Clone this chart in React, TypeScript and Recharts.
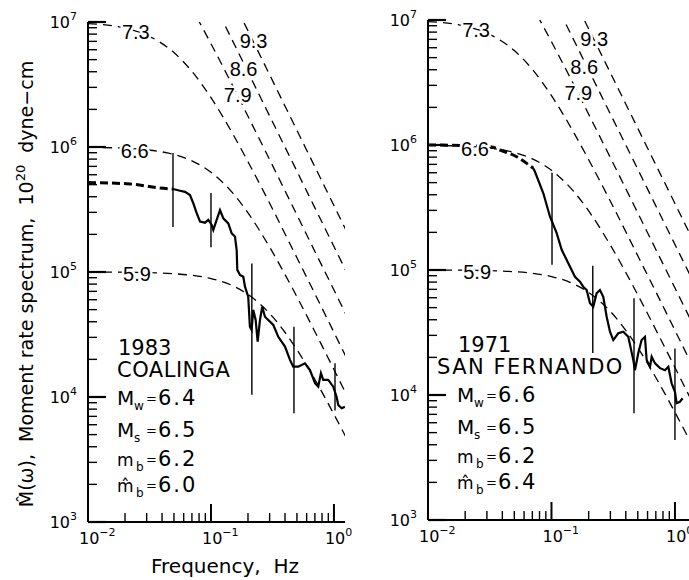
import React from "react";
import { LineChart, Line, XAxis, YAxis, ReferenceLine, ReferenceDot } from "recharts";

// dashed source-model spectra (Hz, 10^20 dyne-cm)
const modelFreq = [0.01, 0.02, 0.03, 0.05, 0.07, 0.1, 0.15, 0.2, 0.3, 0.5, 0.7, 1.0, 1.4];
const m59 = [1.0e5, 9.95e4, 9.89e4, 9.69e4, 9.41e4, 8.87e4, 7.77e4, 6.62e4, 4.66e4, 2.39e4, 1.38e4, 7.27e3, 3.85e3];
const m66 = [9.94e5, 9.77e5, 9.49e5, 8.71e5, 7.75e5, 6.28e5, 4.29e5, 2.97e5, 1.58e5, 6.33e4, 3.33e4, 1.66e4, 8.55e3];
const m73 = [9.71e6, 8.92e6, 7.86e6, 5.69e6, 4.03e6, 2.48e6, 1.28e6, 7.63e5, 3.55e5, 1.3e5, 6.7e4, 3.29e4, 1.68e4];
const m79Freq = [0.05, 0.07, 0.1, 0.15, 0.2, 0.3, 0.5, 0.7, 1.0, 1.4];
const m79 = [2.23e7, 1.28e7, 6.7e6, 3.1e6, 1.76e6, 7.92e5, 2.86e5, 1.46e5, 7.18e4, 3.66e4];
const m86Freq = [0.07, 0.1, 0.15, 0.2, 0.3, 0.5, 0.7, 1.0, 1.4];
const m86 = [3.16e7, 1.575e7, 7.06e6, 3.98e6, 1.77e6, 6.4e5, 3.26e5, 1.6e5, 8.16e4];
const m93Freq = [0.1, 0.15, 0.2, 0.3, 0.5, 0.7, 1.0, 1.4];
const m93 = [3.39e7, 1.51e7, 8.5e6, 3.78e6, 1.36e6, 6.94e5, 3.4e5, 1.73e5];

// magnitude labels on the model curves
const curveLabels = [
  { f: 0.0245, M: 8.3e6, t: "7.3" },
  { f: 0.024, M: 9.3e5, t: "6.6" },
  { f: 0.025, M: 9.6e4, t: "5.9" },
  { f: 0.222, M: 7.0e6, t: "9.3" },
  { f: 0.184, M: 4.2e6, t: "8.6" },
  { f: 0.165, M: 2.63e6, t: "7.9" },
];

// 1983 Coalinga
const coalHeavyF = [0.01, 0.022, 0.0385, 0.0491];
const coalHeavyM = [5.2e5, 5.06e5, 4.7e5, 4.61e5];
const coalF = [0.0491, 0.056, 0.0615, 0.0675, 0.0718, 0.0766, 0.0815, 0.0894, 0.0951, 0.1014, 0.1045, 0.1112, 0.1184, 0.1259, 0.1383, 0.1474, 0.1567, 0.1618, 0.1637, 0.1722, 0.1832, 0.189, 0.2009, 0.2073, 0.2141, 0.2208, 0.2309, 0.2397, 0.2503, 0.2612, 0.2748, 0.2924, 0.3214, 0.3527, 0.3999, 0.4389, 0.4668, 0.5128, 0.5808, 0.6383, 0.7014, 0.7453, 0.7837, 0.8182, 0.8991, 0.9862, 1.052, 1.084, 1.156, 1.228];
const coalM = [4.61e5, 4.47e5, 4.38e5, 4.13e5, 3.55e5, 2.95e5, 2.53e5, 2.48e5, 2.61e5, 2.38e5, 2.17e5, 2.61e5, 3.13e5, 2.69e5, 2.45e5, 2.04e5, 1.92e5, 1.5e5, 1.04e5, 9.46e4, 9.17e4, 7.63e4, 6.34e4, 3.65e4, 3.44e4, 4.97e4, 4.13e4, 2.77e4, 4.13e4, 5.27e4, 4.39e4, 4.13e4, 3.77e4, 3.03e4, 2.53e4, 1.98e4, 1.75e4, 1.75e4, 1.86e4, 1.64e4, 1.29e4, 1.21e4, 1.55e4, 1.37e4, 1.37e4, 1.21e4, 1.0e4, 8.63e3, 8.13e3, 8.36e3];
const coalBars = [
  { f: 0.0491, lo: 2.29e5, hi: 8.95e5 },
  { f: 0.1, lo: 1.58e5, hi: 4.29e5 },
  { f: 0.215, lo: 1.04e4, hi: 1.17e5 },
  { f: 0.473, lo: 7.41e3, hi: 3.65e4 },
  { f: 1.02, lo: 7.8e3, hi: 1.86e4 },
];

// 1971 San Fernando
const sfHeavyF = [0.01, 0.02, 0.033, 0.0383, 0.0522, 0.0712];
const sfHeavyM = [1.0e6, 9.9e5, 9.64e5, 9.12e5, 8.06e5, 6.51e5];
const sfF = [0.0712, 0.0735, 0.0859, 0.0973, 0.1102, 0.121, 0.1287, 0.1413, 0.155, 0.1702, 0.1808, 0.1927, 0.205, 0.218, 0.2321, 0.2469, 0.2627, 0.2799, 0.2977, 0.3166, 0.3474, 0.3814, 0.4187, 0.4596, 0.4742, 0.5044, 0.537, 0.5714, 0.5897, 0.6279, 0.6478, 0.6896, 0.7568, 0.8303, 0.8834, 0.9402, 1.0, 1.032, 1.097, 1.154];
const sfM = [6.51e5, 6.11e5, 4.11e5, 2.67e5, 1.97e5, 1.45e5, 1.28e5, 1.06e5, 8.83e4, 8.06e4, 7.35e4, 6.92e4, 5.42e4, 5.08e4, 6.52e4, 6.92e4, 6.11e4, 4.23e4, 3.21e4, 2.75e4, 3.12e4, 3.21e4, 2.92e4, 1.91e4, 1.58e4, 2.16e4, 2.75e4, 2.92e4, 1.91e4, 1.68e4, 2.02e4, 1.79e4, 1.64e4, 1.58e4, 1.68e4, 1.24e4, 1.06e4, 8.59e3, 8.83e3, 9.41e3];
const sfBars = [
  { f: 0.101, lo: 1.1e5, hi: 6.0e5 },
  { f: 0.216, lo: 2.17e4, hi: 1.08e5 },
  { f: 0.466, lo: 7.14e3, hi: 5.94e4 },
  { f: 1.0, lo: 4.37e3, hi: 2.36e4 },
];

// log ticks
const mantissas = [1, 2, 3, 4, 5, 6, 7, 8, 9];
const yDecades = [1e3, 1e4, 1e5, 1e6];
const xDecades = [0.01, 0.1];
const yTicks = [...yDecades.flatMap((d) => mantissas.map((m) => d * m)), 1e7];
const xTicks = [...xDecades.flatMap((d) => mantissas.map((m) => d * m)), 1];

const pts = (f: number[], m: number[]) => f.map((v, i) => ({ f: v, M: m[i] }));

const FONT = "DejaVu Sans, sans-serif";

const expOf = (v: number) => {
  const l = Math.log10(v);
  const e = Math.round(l);
  return { e, major: Math.abs(l - e) < 1e-6 };
};

const renderYTick = (props: any) => {
  const { x, y, payload } = props;
  const { e, major } = expOf(payload.value);
  return (
    <g>
      <line x1={x} x2={x + (major ? 18 : 9)} y1={y} y2={y} stroke="#000" strokeWidth={major ? 2.2 : 1.4} />
      {major && (
        <text x={x - 11} y={y + 6} textAnchor="end" fontFamily={FONT} fontSize={16} fill="#000">
          10<tspan dy={-8} fontSize={11}>{e}</tspan>
        </text>
      )}
    </g>
  );
};

const renderXTick = (props: any) => {
  const { x, y, payload } = props;
  const { e, major } = expOf(payload.value);
  return (
    <g>
      <line x1={x} x2={x} y1={y} y2={y - (major ? 18 : 9)} stroke="#000" strokeWidth={major ? 2 : 1.4} />
      {major && (
        <text x={x - 9} y={y + 22} textAnchor="start" fontFamily={FONT} fontSize={16} fill="#000">
          10<tspan dy={-8} fontSize={11}>{e < 0 ? "\u2212" + -e : String(e)}</tspan>
        </text>
      )}
    </g>
  );
};

const models = [
  { key: "m59", data: pts(modelFreq, m59) },
  { key: "m66", data: pts(modelFreq, m66) },
  { key: "m73", data: pts(modelFreq, m73) },
  { key: "m79", data: pts(m79Freq, m79) },
  { key: "m86", data: pts(m86Freq, m86) },
  { key: "m93", data: pts(m93Freq, m93) },
];

type Bar = { f: number; lo: number; hi: number };

function Panel(props: {
  xMax: number;
  width: number;
  margin: { top: number; right: number; bottom: number; left: number };
  heavy: { f: number; M: number }[];
  solid: { f: number; M: number }[];
  bars: Bar[];
}) {
  const { xMax, width, margin, heavy, solid, bars } = props;
  return (
    <LineChart width={width} height={580} margin={margin}>
      <XAxis
        dataKey="f"
        type="number"
        scale="log"
        domain={[0.01, xMax]}
        allowDataOverflow
        ticks={xTicks}
        interval={0}
        tick={renderXTick}
        tickLine={false}
        tickSize={0}
        tickMargin={0}
        height={30}
        axisLine={{ stroke: "#000", strokeWidth: 2 }}
      />
      <YAxis
        type="number"
        scale="log"
        domain={[1e3, 1e7]}
        allowDataOverflow
        ticks={yTicks}
        interval={0}
        tick={renderYTick}
        tickLine={false}
        tickSize={0}
        tickMargin={0}
        width={50}
        axisLine={{ stroke: "#000", strokeWidth: 2 }}
      />
      {models.map((m) => (
        <Line
          key={m.key}
          data={m.data}
          dataKey="M"
          type="monotone"
          stroke="#000"
          strokeWidth={1.3}
          strokeDasharray="9 6"
          dot={false}
          activeDot={false}
          isAnimationActive={false}
        />
      ))}
      <Line
        data={heavy}
        dataKey="M"
        type="monotone"
        stroke="#000"
        strokeWidth={3}
        strokeDasharray="8 4"
        dot={false}
        activeDot={false}
        isAnimationActive={false}
      />
      <Line
        data={solid}
        dataKey="M"
        type="linear"
        stroke="#000"
        strokeWidth={2.2}
        dot={false}
        activeDot={false}
        isAnimationActive={false}
      />
      {bars.map((b, i) => (
        <ReferenceLine
          key={"bar" + i}
          segment={[
            { x: b.f, y: b.lo },
            { x: b.f, y: b.hi },
          ]}
          stroke="#000"
          strokeWidth={1.4}
        />
      ))}
      {curveLabels.map((l) => (
        <ReferenceDot
          key={l.t}
          x={l.f}
          y={l.M}
          r={0}
          ifOverflow="visible"
          shape={(p: any) => (
            <text
              x={p.cx}
              y={p.cy}
              textAnchor="middle"
              dominantBaseline="central"
              fontFamily="Liberation Sans, sans-serif"
              fontSize={20}
              fill="#000"
              stroke="#fff"
              strokeWidth={5}
              paintOrder="stroke"
            >
              {l.t}
            </text>
          )}
        />
      ))}
    </LineChart>
  );
}

function MagBlock(props: { x: number; y0: number; year: string; name: string; nameX: number; vals: string[]; spacing: number }) {
  const { x, y0, year, name, nameX, vals, spacing } = props;
  const rows = [
    { sym: "M", sub: "w", dy: 0, size: 20, subX: 17 },
    { sym: "M", sub: "s", dy: 32, size: 20, subX: 17 },
    { sym: "m", sub: "b", dy: 61, size: 17, subX: 19 },
    { sym: "m\u0302", sub: "b", dy: 87, size: 17, subX: 19 },
  ];
  return (
    <g fontFamily={FONT} fill="#000">
      <text x={x + 1} y={y0 - 50} fontSize={21}>{year}</text>
      <text x={nameX} y={y0 - 28} fontSize={21} letterSpacing={spacing}>{name}</text>
      {rows.map((r, i) => (
        <g key={i}>
          <text x={x} y={y0 + r.dy} fontSize={r.size}>{r.sym}</text>
          <text x={x + r.subX} y={y0 + r.dy + 5} fontSize={12}>{r.sub}</text>
          <text x={x + 29} y={y0 + r.dy - 2} fontSize={13}>=</text>
          <text x={x + 41} y={y0 + r.dy} fontSize={21} letterSpacing={2}>{vals[i]}</text>
        </g>
      ))}
    </g>
  );
}

export default function App() {
  return (
    <div style={{ position: "absolute", left: 0, top: 0, width: 689, height: 580, overflow: "hidden", background: "#fff" }}>
      <div style={{ position: "absolute", left: 0, top: 0 }}>
        <Panel
          xMax={1.23}
          width={362}
          margin={{ top: 22, right: 17, bottom: 28, left: 38 }}
          heavy={pts(coalHeavyF, coalHeavyM)}
          solid={pts(coalF, coalM)}
          bars={coalBars}
        />
      </div>
      <div style={{ position: "absolute", left: 345, top: 0 }}>
        <Panel
          xMax={1.4}
          width={350}
          margin={{ top: 20, right: 2, bottom: 30, left: 33 }}
          heavy={pts(sfHeavyF, sfHeavyM)}
          solid={pts(sfF, sfM)}
          bars={sfBars}
        />
      </div>
      <svg width={689} height={580} style={{ position: "absolute", left: 0, top: 0, pointerEvents: "none" }}>
        <text
          transform="translate(33,284) rotate(-90)"
          textAnchor="middle"
          fontFamily={FONT}
          fontSize={19}
          fill="#000"
          style={{ whiteSpace: "pre" }}
        >
          {"M\u0302(\u03c9),  Moment rate spectrum,  10"}
          <tspan dy={-8} fontSize={13}>20</tspan>
          <tspan dy={8}>{"  dyne\u2212cm"}</tspan>
        </text>
        <text x={225} y={573} textAnchor="middle" fontFamily={FONT} fontSize={20} fill="#000" style={{ whiteSpace: "pre" }}>
          {"Frequency,  Hz"}
        </text>
        <MagBlock x={117} y0={405} year="1983" name="COALINGA" nameX={117} vals={["6.4", "6.5", "6.2", "6.0"]} spacing={0.5} />
        <MagBlock x={457} y0={402} year="1971" name="SAN FERNANDO" nameX={437} vals={["6.6", "6.5", "6.2", "6.4"]} spacing={1.5} />
      </svg>
    </div>
  );
}
